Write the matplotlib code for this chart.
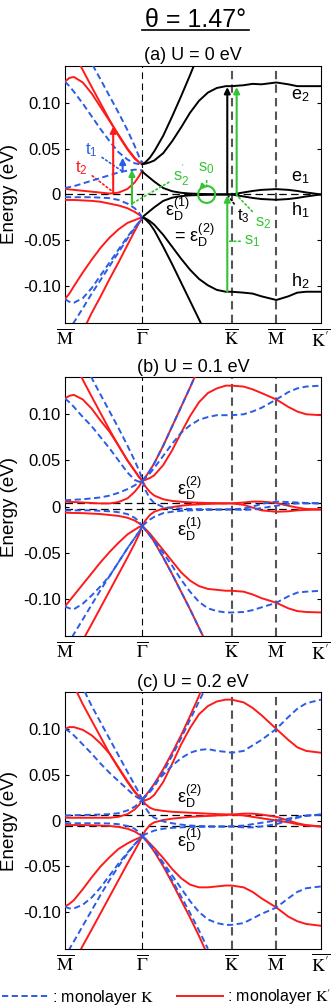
import matplotlib
matplotlib.use('Agg')
import matplotlib.pyplot as plt
from matplotlib.lines import Line2D
from matplotlib.patches import Arc

plt.rcParams['font.family'] = ['Liberation Sans', 'DejaVu Sans']
plt.rcParams['mathtext.fontset'] = 'stix'
plt.rcParams['axes.unicode_minus'] = False

RED = '#ff1a1a'
BLUE = '#2b5ce6'
GREEN = '#33c433'
GREY = '#555555'

# k-path: M - Gamma - K - M - K'
XM, XG, XK, XM2, XKP = 0.0, 0.866, 1.866, 2.366, 2.866
XTICKS = [XM, XG, XK, XM2, XKP]
XLABELS = [r'$\overline{\mathrm{M}}$', r'$\overline{\Gamma}$', r'$\overline{\mathrm{K}}$',
           r'$\overline{\mathrm{M}}$', r"$\overline{\mathrm{K}'}$"]
YTICKS = [-0.10, -0.05, 0, 0.05, 0.10]
YLABELS = ['-0.10', '-0.05', '0', '0.05', '0.10']

# common k grids (M->Gamma, Gamma->K')
XL = [0, 0.05, 0.1, 0.2, 0.3, 0.4, 0.5, 0.6, 0.7, 0.78, 0.83, 0.866]
XR = [0.866, 0.9, 0.95, 1.0, 1.1, 1.2, 1.3, 1.4, 1.5, 1.6, 1.7, 1.8, 1.866,
      2.0, 2.1, 2.2, 2.366, 2.5, 2.6, 2.7, 2.866]

# ---------------- (a) U = 0 eV ----------------
a_R1_x = [0.17, 0.3, 0.4, 0.5, 0.6, 0.7, 0.78, 0.83, 0.866]
a_R1 = [0.141, 0.117, 0.099, 0.081, 0.064, 0.049, 0.039, 0.035, 0.033]
a_R2 = [0.123, 0.127, 0.128, 0.122, 0.110, 0.095, 0.080, 0.065, 0.050, 0.040, 0.035, 0.033]
a_B1_x = [0.31, 0.4, 0.5, 0.6, 0.7, 0.78, 0.83, 0.866]
a_B1 = [0.141, 0.125, 0.107, 0.089, 0.070, 0.053, 0.041, 0.034]
a_B2 = [0.123, 0.118, 0.112, 0.099, 0.085, 0.071, 0.058, 0.046, 0.038, 0.034, 0.033, 0.033]
a_Rf1 = [0.006, 0.0055, 0.005, 0.004, 0.003, 0.002, 0.001, 0.002, 0.006, 0.013, 0.020, 0.026]
a_Bf1 = [0.007, 0.008, 0.009, 0.012, 0.015, 0.018, 0.021, 0.024, 0.026, 0.027, 0.027, 0.026]
a_Rf2 = [-0.006, -0.006, -0.006, -0.0065, -0.007, -0.008, -0.010, -0.012, -0.015, -0.019, -0.022, -0.025]
a_Bf2 = [-0.003, -0.003, -0.003, -0.003, -0.003, -0.0035, -0.004, -0.006, -0.010, -0.015, -0.020, -0.025]
a_R3 = [-0.114, -0.108, -0.100, -0.085, -0.071, -0.058, -0.047, -0.038, -0.031, -0.028, -0.026, -0.025]
a_B3 = [-0.114, -0.117, -0.118, -0.113, -0.102, -0.088, -0.074, -0.060, -0.046, -0.036, -0.030, -0.026]
a_B4_x = [0.09, 0.2, 0.3, 0.4, 0.5, 0.6, 0.7, 0.78, 0.83, 0.866]
a_B4 = [-0.141, -0.124, -0.108, -0.093, -0.078, -0.063, -0.048, -0.037, -0.030, -0.026]
a_R4_x = [0.24, 0.3, 0.4, 0.5, 0.6, 0.7, 0.78, 0.83, 0.866]
a_R4 = [-0.141, -0.129, -0.111, -0.092, -0.074, -0.055, -0.040, -0.031, -0.026]
# bilayer bands (black) Gamma -> K'
a_up_x = [0.866, 0.9, 0.95, 1.0, 1.1, 1.2, 1.3, 1.4, 1.45]
a_up = [0.033, 0.035, 0.040, 0.047, 0.064, 0.085, 0.107, 0.130, 0.142]
a_dn_x = [0.866, 0.9, 0.95, 1.0, 1.1, 1.2, 1.3, 1.4, 1.5, 1.55]
a_dn = [-0.025, -0.027, -0.032, -0.039, -0.057, -0.076, -0.096, -0.116, -0.136, -0.146]
a_e2 = [0.033, 0.0335, 0.035, 0.037, 0.045, 0.058, 0.073, 0.089, 0.102, 0.111, 0.116, 0.118, 0.118,
        0.119, 0.1205, 0.120, 0.122, 0.120, 0.118, 0.118, 0.118]
a_e1 = [0.025, 0.022, 0.018, 0.014, 0.007, 0.0035, 0.0018, 0.001, 0.0006, 0.0004, 0.0002, 0.0001, 0.0,
        0.0022, 0.0038, 0.005, 0.0058, 0.005, 0.0038, 0.0022, 0.0]
a_h1 = [-0.025, -0.022, -0.018, -0.014, -0.007, -0.0035, -0.0018, -0.001, -0.0006, -0.0004, -0.0002, -0.0001, 0.0,
        -0.0022, -0.0038, -0.005, -0.0058, -0.005, -0.0038, -0.0022, 0.0]
a_h2 = [-0.025, -0.026, -0.029, -0.033, -0.044, -0.057, -0.070, -0.082, -0.092, -0.099, -0.104, -0.106, -0.106,
        -0.107, -0.108, -0.111, -0.115, -0.111, -0.107, -0.106, -0.106]

# ---------------- (b) U = 0.1 eV ----------------
b_R1_x = [0.18, 0.3, 0.4, 0.5, 0.6, 0.7, 0.78, 0.83, 0.866]
b_R1 = [0.141, 0.119, 0.101, 0.083, 0.066, 0.050, 0.039, 0.032, 0.028]
b_R2 = [0.117, 0.120, 0.121, 0.116, 0.106, 0.093, 0.081, 0.066, 0.050, 0.039, 0.032, 0.028]
b_B1_x = [0.29, 0.4, 0.5, 0.6, 0.7, 0.78, 0.83, 0.866]
b_B1 = [0.141, 0.121, 0.103, 0.085, 0.066, 0.050, 0.039, 0.030]
b_B2 = [0.117, 0.113, 0.108, 0.097, 0.087, 0.075, 0.063, 0.050, 0.037, 0.029, 0.027, 0.028]
b_Rf1 = [0.0055, 0.0052, 0.005, 0.0045, 0.004, 0.0035, 0.0035, 0.005, 0.009, 0.016, 0.022, 0.028]
b_Bf1 = [0.007, 0.0072, 0.0075, 0.008, 0.009, 0.010, 0.012, 0.015, 0.019, 0.023, 0.026, 0.028]
b_Rf2 = [-0.0065, -0.0067, -0.0068, -0.007, -0.0075, -0.008, -0.009, -0.010, -0.012, -0.015, -0.018, -0.021]
b_Bf2 = [-0.004, -0.004, -0.004, -0.004, -0.004, -0.0045, -0.005, -0.006, -0.008, -0.012, -0.016, -0.021]
b_R3 = [-0.108, -0.102, -0.096, -0.084, -0.072, -0.060, -0.049, -0.039, -0.030, -0.025, -0.022, -0.021]
b_B3 = [-0.108, -0.110, -0.111, -0.105, -0.096, -0.086, -0.075, -0.060, -0.045, -0.034, -0.027, -0.021]
b_B4_x = [0.08, 0.2, 0.3, 0.4, 0.5, 0.6, 0.7, 0.78, 0.83, 0.866]
b_B4 = [-0.141, -0.122, -0.106, -0.090, -0.075, -0.060, -0.045, -0.034, -0.027, -0.021]
b_R4_x = [0.22, 0.3, 0.4, 0.5, 0.6, 0.7, 0.78, 0.83, 0.866]
b_R4 = [-0.141, -0.127, -0.109, -0.091, -0.073, -0.055, -0.040, -0.030, -0.021]
b_up_x = [0.866, 0.9, 0.95, 1.0, 1.1, 1.2, 1.3, 1.4, 1.46]
b_up = [0.028, 0.032, 0.039, 0.047, 0.066, 0.087, 0.108, 0.129, 0.142]
b_dn_x = [0.866, 0.9, 0.95, 1.0, 1.1, 1.2, 1.3, 1.4, 1.5, 1.55]
b_dn = [-0.021, -0.025, -0.031, -0.038, -0.055, -0.073, -0.092, -0.111, -0.131, -0.141]
b_Re2 = [0.028, 0.029, 0.031, 0.034, 0.045, 0.061, 0.080, 0.098, 0.113, 0.123, 0.128, 0.131, 0.131,
         0.130, 0.127, 0.123, 0.116, 0.108, 0.103, 0.100, 0.099]
b_Be2 = [0.028, 0.031, 0.036, 0.042, 0.055, 0.068, 0.080, 0.088, 0.094, 0.097, 0.099, 0.099, 0.099,
         0.100, 0.103, 0.107, 0.116, 0.124, 0.128, 0.130, 0.131]
b_Rh2 = [-0.021, -0.024, -0.029, -0.035, -0.047, -0.059, -0.071, -0.080, -0.086, -0.089, -0.090, -0.091, -0.091,
         -0.092, -0.095, -0.099, -0.104, -0.110, -0.113, -0.114, -0.1145]
b_Bh2 = [-0.021, -0.025, -0.031, -0.037, -0.050, -0.064, -0.079, -0.092, -0.103, -0.110, -0.113, -0.1145, -0.1145,
         -0.114, -0.112, -0.109, -0.104, -0.097, -0.093, -0.092, -0.091]
b_RA = [0.028, 0.022, 0.016, 0.012, 0.008, 0.0062, 0.0053, 0.0047, 0.0043, 0.004, 0.0038, 0.0036, 0.0036,
        0.0045, 0.0055, 0.0055, 0.004, 0.001, -0.001, -0.0025, -0.003]
b_RB = [-0.021, -0.015, -0.009, -0.0055, -0.002, -0.0005, 0.001, 0.002, 0.0025, 0.003, 0.0033, 0.0035, 0.0036,
        0.002, -0.001, -0.004, -0.0055, -0.005, -0.004, -0.0035, -0.003]
b_BA = [0.028, 0.018, 0.009, 0.004, -0.0005, -0.0015, -0.002, -0.0025, -0.0027, -0.0028, -0.003, -0.003, -0.003,
        -0.002, 0.0, 0.003, 0.0055, 0.005, 0.0045, 0.004, 0.0036]
b_BB = [-0.021, -0.018, -0.014, -0.011, -0.007, -0.0055, -0.0045, -0.004, -0.0037, -0.0035, -0.0033, -0.0031, -0.003,
        -0.0035, -0.003, -0.0015, 0.001, 0.003, 0.0035, 0.0036, 0.0036]

# ---------------- (c) U = 0.2 eV ----------------
c_R1_x = [0.13, 0.2, 0.3, 0.4, 0.5, 0.6, 0.7, 0.78, 0.83, 0.866]
c_R1 = [0.141, 0.127, 0.109, 0.091, 0.073, 0.057, 0.042, 0.031, 0.026, 0.023]
c_R2 = [0.100, 0.102, 0.102, 0.099, 0.093, 0.084, 0.073, 0.058, 0.043, 0.032, 0.026, 0.023]
c_B1_x = [0.22, 0.3, 0.4, 0.5, 0.6, 0.7, 0.78, 0.83, 0.866]
c_B1 = [0.141, 0.125, 0.107, 0.089, 0.071, 0.053, 0.039, 0.030, 0.023]
c_B2 = [0.100, 0.097, 0.093, 0.083, 0.073, 0.062, 0.052, 0.043, 0.034, 0.027, 0.024, 0.023]
c_Rf1 = [0.003, 0.003, 0.003, 0.003, 0.003, 0.003, 0.003, 0.004, 0.007, 0.012, 0.017, 0.023]
c_Bf1 = [0.0055, 0.0056, 0.0058, 0.006, 0.0063, 0.0065, 0.007, 0.008, 0.011, 0.015, 0.019, 0.023]
c_Rf2 = [-0.005, -0.005, -0.005, -0.005, -0.0052, -0.0055, -0.006, -0.007, -0.009, -0.012, -0.015, -0.017]
c_Bf2 = [-0.003, -0.003, -0.003, -0.003, -0.003, -0.003, -0.0033, -0.004, -0.006, -0.009, -0.013, -0.017]
c_R3 = [-0.094, -0.091, -0.087, -0.075, -0.062, -0.050, -0.040, -0.031, -0.025, -0.021, -0.019, -0.017]
c_B3 = [-0.094, -0.096, -0.096, -0.092, -0.084, -0.073, -0.060, -0.047, -0.035, -0.026, -0.021, -0.017]
c_B4_x = [0.04, 0.1, 0.2, 0.3, 0.4, 0.5, 0.6, 0.7, 0.78, 0.83, 0.866]
c_B4 = [-0.142, -0.132, -0.115, -0.098, -0.081, -0.065, -0.050, -0.036, -0.026, -0.021, -0.017]
c_R4_x = [0.17, 0.3, 0.4, 0.5, 0.6, 0.7, 0.78, 0.83, 0.866]
c_R4 = [-0.142, -0.119, -0.101, -0.083, -0.065, -0.047, -0.033, -0.024, -0.017]
c_Rup_x = [0.866, 0.9, 0.95, 1.0, 1.1, 1.2, 1.3, 1.4, 1.5, 1.52]
c_Rup = [0.023, 0.027, 0.033, 0.040, 0.056, 0.074, 0.093, 0.114, 0.136, 0.141]
c_Bup_x = [0.866, 0.9, 0.95, 1.0, 1.1, 1.2, 1.3, 1.4, 1.5, 1.56]
c_Bup = [0.023, 0.026, 0.031, 0.037, 0.053, 0.071, 0.090, 0.110, 0.130, 0.142]
c_Rdn_x = [0.866, 0.9, 0.95, 1.0, 1.1, 1.2, 1.3, 1.4, 1.5, 1.57]
c_Rdn = [-0.017, -0.021, -0.027, -0.034, -0.050, -0.068, -0.087, -0.106, -0.126, -0.141]
c_Bdn_x = [0.866, 0.9, 0.95, 1.0, 1.1, 1.2, 1.3, 1.4, 1.5, 1.6]
c_Bdn = [-0.017, -0.020, -0.026, -0.032, -0.048, -0.065, -0.083, -0.101, -0.120, -0.140]
c_Re2 = [0.023, 0.022, 0.024, 0.028, 0.042, 0.062, 0.083, 0.101, 0.116, 0.125, 0.130, 0.132, 0.132,
         0.129, 0.123, 0.115, 0.100, 0.088, 0.080, 0.076, 0.074]
c_Be2 = [0.023, 0.027, 0.033, 0.040, 0.050, 0.060, 0.068, 0.074, 0.077, 0.078, 0.076, 0.075, 0.074,
         0.076, 0.082, 0.088, 0.100, 0.113, 0.122, 0.128, 0.132]
c_Rh2 = [-0.017, -0.020, -0.025, -0.030, -0.041, -0.053, -0.063, -0.070, -0.073, -0.073, -0.072, -0.071, -0.071,
         -0.073, -0.078, -0.085, -0.095, -0.105, -0.110, -0.113, -0.115]
c_Bh2 = [-0.017, -0.021, -0.027, -0.033, -0.046, -0.060, -0.074, -0.088, -0.100, -0.108, -0.112, -0.114, -0.114,
         -0.112, -0.107, -0.102, -0.095, -0.085, -0.078, -0.074, -0.072]
c_RA = [0.023, 0.018, 0.014, 0.012, 0.0105, 0.0095, 0.009, 0.0085, 0.008, 0.0075, 0.007, 0.0067, 0.0065,
        0.0055, 0.004, 0.0025, 0.0, -0.002, -0.004, -0.0055, -0.0065]
c_RB = [-0.017, -0.011, -0.005, -0.002, 0.0005, 0.002, 0.003, 0.004, 0.0045, 0.005, 0.0055, 0.006, 0.0065,
        0.0075, 0.0075, 0.0065, 0.004, 0.0, -0.003, -0.005, -0.0065]
c_BA = [0.023, 0.014, 0.007, 0.003, -0.001, -0.003, -0.0045, -0.0055, -0.006, -0.0063, -0.0065, -0.0065, -0.0065,
        -0.0075, -0.0075, -0.0065, -0.004, 0.0, 0.003, 0.005, 0.0065]
c_BB = [-0.017, -0.015, -0.013, -0.011, -0.009, -0.008, -0.0075, -0.007, -0.007, -0.0068, -0.0067, -0.0066, -0.0065,
        -0.0055, -0.004, -0.0025, 0.0, 0.002, 0.004, 0.0055, 0.0065]


def red(ax, x, y):
    ax.plot(x, y, color=RED, lw=1.4, zorder=3)


def blue(ax, x, y):
    ax.plot(x, y, color=BLUE, lw=1.4, ls=(0, (3.2, 1.8)), zorder=4)


def frame(ax, title, hlines):
    ax.set_xlim(XM, XKP)
    ax.set_ylim(-0.14, 0.14)
    ax.axvline(XG, color='k', lw=0.8, ls=(0, (6, 4)), zorder=1)
    for xv in (XK, XM2):
        ax.axvline(xv, color=GREY, lw=1.5, ls=(0, (4, 2.5)), zorder=1)
    for e in hlines:
        ax.axhline(e, color='k', lw=0.9, ls=(0, (6, 3.5)), zorder=1)
    ax.set_xticks(XTICKS)
    ax.set_xticklabels(XLABELS, fontsize=13)
    ax.set_yticks(YTICKS)
    ax.set_yticklabels(YLABELS)
    ax.tick_params(axis='x', length=0, pad=4)
    ax.tick_params(axis='y', direction='in', right=True, length=3, labelsize=12, pad=3)
    ax.set_ylabel('Energy (eV)', fontsize=13.5)
    ax.yaxis.set_label_coords(-0.185, 0.5)
    ax.set_title(title, fontsize=13, pad=4)


def sub(base, s, sup=None):
    # plain-font subscripts / superscripts
    txt = base + '$_\\mathregular{%s}' % s
    if sup:
        txt += '^\\mathregular{%s}' % sup
    return txt + '$'


fig = plt.figure(figsize=(3.33, 10.07), dpi=100)
ax_a = fig.add_axes([0.195, 0.6793, 0.769, 0.2552])
ax_b = fig.add_axes([0.195, 0.3684, 0.769, 0.2569])
ax_c = fig.add_axes([0.195, 0.0579, 0.769, 0.2546])

fig.text(0.587, 0.9732, 'θ = 1.47°', ha='center', va='baseline', fontsize=18)
fig.add_artist(Line2D([0.426, 0.748], [0.9702, 0.9702], transform=fig.transFigure, color='k', lw=1.2))

# ---- panel (a)
ax = ax_a
frame(ax, '(a) U = 0 eV', [0.0])
red(ax, a_R1_x, a_R1)
red(ax, XL, a_R2)
red(ax, XL, a_Rf1)
red(ax, XL, a_Rf2)
red(ax, XL, a_R3)
red(ax, a_R4_x, a_R4)
blue(ax, a_B1_x, a_B1)
blue(ax, XL, a_B2)
blue(ax, XL, a_Bf1)
blue(ax, XL, a_Bf2)
blue(ax, XL, a_B3)
blue(ax, a_B4_x, a_B4)
for xs, ys in [(a_up_x, a_up), (a_dn_x, a_dn), (XR, a_e2), (XR, a_e1), (XR, a_h1), (XR, a_h2)]:
    ax.plot(xs, ys, color='k', lw=1.4, zorder=3)

arrow = dict(arrowstyle='-|>', lw=1.5, mutation_scale=9, shrinkA=0, shrinkB=0)
ax.annotate('', xy=(0.54, 0.074), xytext=(0.54, 0.001), arrowprops=dict(arrow, color=RED), zorder=6)
ax.annotate('', xy=(0.646, 0.040), xytext=(0.646, 0.025), arrowprops=dict(arrow, color=BLUE), zorder=6)
ax.annotate('', xy=(0.75, 0.027), xytext=(0.75, -0.011), arrowprops=dict(arrow, color=GREEN), zorder=6)
ax.annotate('', xy=(1.817, 0.117), xytext=(1.817, 0.0), arrowprops=dict(arrow, color='k'), zorder=6)
ax.annotate('', xy=(1.922, 0.117), xytext=(1.922, 0.0), arrowprops=dict(arrow, color=GREEN), zorder=6)
ax.annotate('', xy=(1.817, -0.001), xytext=(1.817, -0.106), arrowprops=dict(arrow, color=GREEN), zorder=6)

dot = dict(arrowstyle='-', ls=':', lw=1.2, shrinkA=1, shrinkB=0)
ax.annotate(sub('t', '1'), xy=(0.63, 0.026), xytext=(0.30, 0.048), color=BLUE, fontsize=12,
            ha='center', va='center', arrowprops=dict(dot, color=BLUE))
ax.annotate(sub('t', '2'), xy=(0.535, 0.003), xytext=(0.19, 0.029), color=RED, fontsize=12,
            ha='center', va='center', arrowprops=dict(dot, color=RED))
ax.annotate(sub('s', '2', "'"), xy=(0.75, -0.010), xytext=(1.3, 0.021), color=GREEN, fontsize=12,
            ha='center', va='center', arrowprops=dict(dot, color=GREEN))
ax.annotate(sub('s', '0'), xy=(1.586, 0.008), xytext=(1.586, 0.028), color=GREEN, fontsize=12,
            ha='center', va='center', arrowprops=dict(dot, color=GREEN))
ax.annotate(sub('t', '3'), xy=(1.83, -0.002), xytext=(2.0, -0.024), color='k', fontsize=12,
            ha='center', va='center', arrowprops=dict(dot, color='k'))
ax.annotate(sub('s', '2'), xy=(1.925, -0.001), xytext=(2.22, -0.031), color=GREEN, fontsize=12,
            ha='center', va='center', arrowprops=dict(dot, color=GREEN))
ax.annotate(sub('s', '1'), xy=(1.82, -0.051), xytext=(2.1, -0.051), color=GREEN, fontsize=12,
            ha='center', va='center', arrowprops=dict(dot, color=GREEN))

# s0 loop
rx, ry = 0.095, 0.0092
ax.add_patch(Arc((1.586, 0.0), 2 * rx, 2 * ry, theta1=175, theta2=495, color=GREEN, lw=1.5, zorder=6))
ax.annotate('', xy=(1.586 - rx * 0.87, ry * 0.5), xytext=(1.586 - rx * 0.6, ry * 0.82),
            arrowprops=dict(arrowstyle='-|>', color=GREEN, lw=1.2, mutation_scale=9, shrinkA=0, shrinkB=0),
            zorder=6)

for txt, yy in [(sub('e', '2'), 0.108), (sub('e', '1'), 0.018), (sub('h', '1'), -0.017),
                (sub('h', '2'), -0.095)]:
    ax.text(2.63, yy, txt, fontsize=13, ha='center', va='center')
ax.text(1.12, -0.016, sub('ε', 'D', '(1)'), fontsize=13, ha='left', va='center')
ax.text(1.22, -0.045, sub('= ε', 'D', '(2)'), fontsize=13, ha='left', va='center')

# ---- panel (b)
ax = ax_b
frame(ax, '(b) U = 0.1 eV', [0.0036, -0.003])
for xs, ys in [(b_R1_x, b_R1), (XL, b_R2), (XL, b_Rf1), (XL, b_Rf2), (XL, b_R3), (b_R4_x, b_R4),
               (b_up_x, b_up), (b_dn_x, b_dn), (XR, b_Re2), (XR, b_Rh2), (XR, b_RA), (XR, b_RB)]:
    red(ax, xs, ys)
for xs, ys in [(b_B1_x, b_B1), (XL, b_B2), (XL, b_Bf1), (XL, b_Bf2), (XL, b_B3), (b_B4_x, b_B4),
               (b_up_x, b_up), (b_dn_x, b_dn), (XR, b_Be2), (XR, b_Bh2), (XR, b_BA), (XR, b_BB)]:
    blue(ax, xs, ys)
ax.text(1.25, 0.02, sub('ε', 'D', '(2)'), fontsize=13, ha='left', va='center')
ax.text(1.25, -0.025, sub('ε', 'D', '(1)'), fontsize=13, ha='left', va='center')

# ---- panel (c)
ax = ax_c
frame(ax, '(c) U = 0.2 eV', [0.0065, -0.0065])
for xs, ys in [(c_R1_x, c_R1), (XL, c_R2), (XL, c_Rf1), (XL, c_Rf2), (XL, c_R3), (c_R4_x, c_R4),
               (c_Rup_x, c_Rup), (c_Rdn_x, c_Rdn), (XR, c_Re2), (XR, c_Rh2), (XR, c_RA), (XR, c_RB)]:
    red(ax, xs, ys)
for xs, ys in [(c_B1_x, c_B1), (XL, c_B2), (XL, c_Bf1), (XL, c_Bf2), (XL, c_B3), (c_B4_x, c_B4),
               (c_Bup_x, c_Bup), (c_Bdn_x, c_Bdn), (XR, c_Be2), (XR, c_Bh2), (XR, c_BA), (XR, c_BB)]:
    blue(ax, xs, ys)
ax.text(1.25, 0.026, sub('ε', 'D', '(2)'), fontsize=13, ha='left', va='center')
ax.text(1.25, -0.022, sub('ε', 'D', '(1)'), fontsize=13, ha='left', va='center')

# legend
h_k = Line2D([], [], color=BLUE, lw=1.4, ls=(0, (3.2, 1.8)))
h_kp = Line2D([], [], color=RED, lw=1.4)
fig.legend([h_k, h_kp], [': monolayer $\\mathrm{K}$', ": monolayer $\\mathrm{K}'$"],
           loc='center', bbox_to_anchor=(0.5, 0.0099), ncol=2, frameon=False, fontsize=11.5,
           handlelength=2.9, handletextpad=0.2, columnspacing=1.5, borderaxespad=0, borderpad=0)

fig.savefig('out.png', dpi=100)
